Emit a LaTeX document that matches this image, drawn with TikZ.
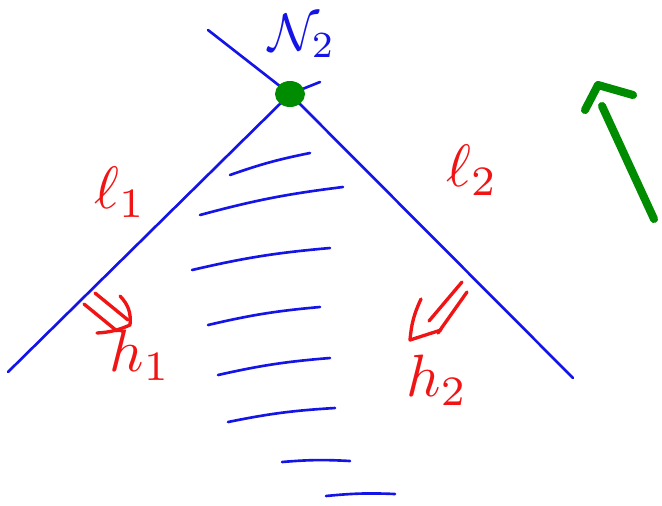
\documentclass[tikz,border=0pt]{standalone}
\usepackage{amsmath, amssymb}
\usepackage{tikz}
\usetikzlibrary{arrows.meta, positioning, calc}
\definecolor{InkBlue}{RGB}{20, 20, 230}
\definecolor{InkRed}{RGB}{240, 20, 20}
\definecolor{InkGreen}{RGB}{0, 140, 0}

\begin{document}
\begin{tikzpicture}[x=0.02cm, y=-0.02cm, line cap=round, line join=round,
    bluepen/.style={InkBlue, line width=1.5pt},
    redpen/.style={InkRed, line width=1.9pt},
    greenpen/.style={InkGreen, line width=4.6pt},
    redlabel/.style={InkRed, scale=3.4},
    hatch/.style={bluepen}]
    \useasboundingbox (0,0) rectangle (662,505);
    % the two boundary lines, crossing at the apex
    \coordinate (apex) at (290,94);
    \draw[bluepen] (8,372) -- (apex) -- (320,82);
    \draw[bluepen] (208,30) -- (apex) -- (573,378);
    \fill[InkGreen] (apex) ellipse (15 and 13);
    \node[InkBlue, scale=3] (nlabel) at (302,36) {$\mathcal{N}_2$};
    % hatching inside the wedge
    \foreach \xa/\ya/\xb/\yb in {230/175/310/153, 200/215/343/187,
        192/270/330/248, 208/325/320/307, 218/375/330/358,
        228/422/335/408, 282/462/350/461, 326/496/395/494} {
        \draw[hatch] (\xa,\ya) to[bend left=4] (\xb,\yb);
    }
    % labels of the lines and normals
    \node[redlabel] (lone) at (120,192) {$\ell_{1}$};
    \node[redlabel] (ltwo) at (472,170) {$\ell_{2}$};
    \node[redlabel] (hone) at (140,355) {$h_{1}$};
    \node[redlabel] (htwo) at (437,380) {$h_{2}$};
    % double arrows pointing into the wedge
    \draw[redpen] (84,304) -- (117,331);
    \draw[redpen] (95,293) -- (128,320);
    \draw[redpen] (120,296) to[bend left=25] (130,325) to[bend left=10] (97,333);
    \draw[redpen] (462,282) -- (429,321);
    \draw[redpen] (467,292) -- (438,333);
    \draw[redpen] (421,299) to[bend right=10] (410,340) -- (441,330);
    % green arrow on the right
    \draw[greenpen] (654,219) -- (602,106);
    \draw[greenpen] (585,110) -- (598,85) -- (633,95);
\end{tikzpicture}
\end{document}
